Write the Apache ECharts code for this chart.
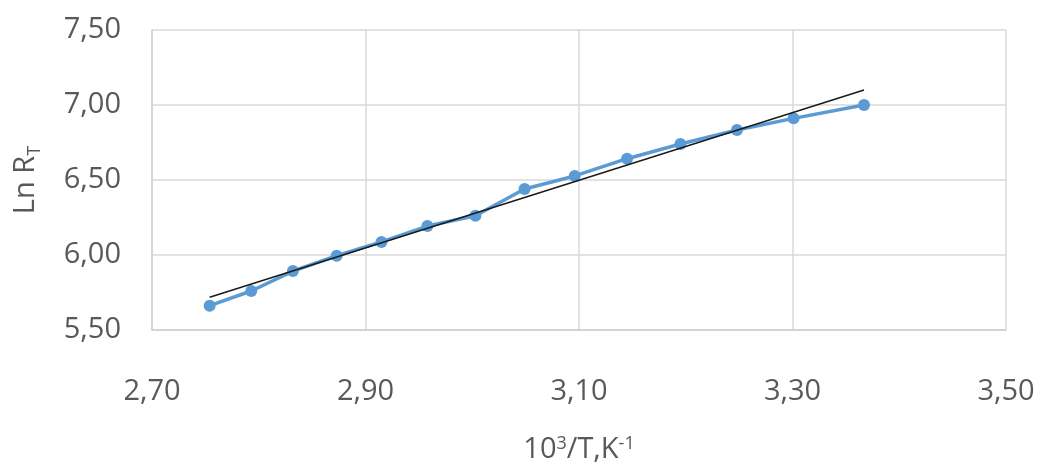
<!DOCTYPE html>
<html>
<head>
<meta charset="utf-8">
<script src="https://cdn.jsdelivr.net/npm/echarts@6/dist/echarts.min.js"></script>
<style>
  html, body { margin: 0; padding: 0; background: #fff; }
  #chart { width: 1044px; height: 468px; }
</style>
</head>
<body>
<div id="chart"></div>
<script>
// measured points, 10^3/T and Ln R_T
const invT = [2.754, 2.793, 2.832, 2.873, 2.915, 2.958, 3.003, 3.049, 3.096, 3.145, 3.195, 3.248, 3.301, 3.367];
const lnR = [5.662, 5.760, 5.893, 5.995, 6.087, 6.193, 6.262, 6.440, 6.527, 6.642, 6.740, 6.833, 6.911, 7.000];

// linear trend line end points
const trendX = [2.754, 3.367];
const trendY = [5.718, 7.100];

const xTicks = [2.70, 2.90, 3.10, 3.30, 3.50];
const yTicks = [5.50, 6.00, 6.50, 7.00, 7.50];

const labelColor = '#595959';
const font = 'Open Sans';
const comma = v => v.toFixed(2).replace('.', ',');

let chart = echarts.init(document.getElementById('chart'));

let option = {
    animation: false,
    textStyle: { fontFamily: font },
    grid: { left: 152, right: 38, top: 30, bottom: 138, containLabel: false, outerBoundsMode: 'none' },
    xAxis: {
        type: 'value',
        min: xTicks[0],
        max: xTicks[xTicks.length - 1],
        interval: 0.2,
        axisLine: { show: true, lineStyle: { color: '#d0d0d0', width: 1.5 } },
        axisTick: { show: false },
        splitLine: { lineStyle: { color: '#d9d9d9', width: 1.5 } },
        axisLabel: { formatter: comma, color: labelColor, fontSize: 29, fontFamily: font, margin: 47 },
        name: '{n|10}{sup|3}{n|/T,K}{sup|-1}',
        nameLocation: 'middle',
        nameGap: 105,
        nameTextStyle: {
            rich: {
                n: { fontSize: 29, fontFamily: font, color: labelColor, lineHeight: 30 },
                sup: { fontSize: 18, fontFamily: font, color: labelColor, lineHeight: 16, verticalAlign: 'top' }
            }
        }
    },
    yAxis: {
        type: 'value',
        min: yTicks[0],
        max: yTicks[yTicks.length - 1],
        interval: 0.5,
        axisLine: { show: true, lineStyle: { color: '#d0d0d0', width: 1.5 } },
        axisTick: { show: false },
        splitLine: { lineStyle: { color: '#d9d9d9', width: 1.5 } },
        axisLabel: { formatter: comma, color: labelColor, fontSize: 29, fontFamily: font, margin: 31 },
        name: '{n|Ln R}{sub|T}',
        nameLocation: 'middle',
        nameGap: 108,
        nameTextStyle: {
            rich: {
                n: { fontSize: 29, fontFamily: font, color: labelColor, lineHeight: 36 },
                sub: { fontSize: 18, fontFamily: font, color: labelColor, lineHeight: 18, verticalAlign: 'bottom' }
            }
        }
    },
    series: [
        {
            name: 'Ln R',
            type: 'line',
            data: invT.map((x, i) => [x, lnR[i]]),
            symbol: 'circle',
            symbolSize: 12,
            itemStyle: { color: '#5b9bd5' },
            lineStyle: { color: '#5b9bd5', width: 3.5 },
            z: 2
        },
        {
            name: 'Trend',
            type: 'line',
            data: trendX.map((x, i) => [x, trendY[i]]),
            symbol: 'none',
            lineStyle: { color: '#1a1a1a', width: 1.5 },
            z: 3
        }
    ]
};

chart.setOption(option);
</script>
</body>
</html>
